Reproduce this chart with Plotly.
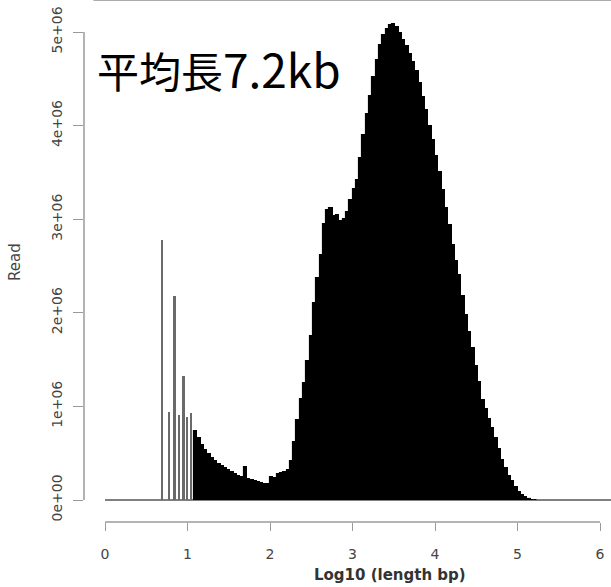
import numpy as np
import plotly.graph_objects as go

# ---- data ----
# discrete short-read spikes: log10(length) for lengths 5..11 bp, counts in millions
spike_log_len = [0.699, 0.778, 0.845, 0.903, 0.954, 1.000, 1.041]
spike_reads_m = [2.78, 0.94, 2.18, 0.91, 1.32, 0.89, 0.93]

# continuous histogram: bin centres start at 1.10, bin width 0.04 (log10 units)
hist_start = 1.10
hist_width = 0.04
hist_reads_m = [
    0.74, 0.66, 0.59, 0.53, 0.49, 0.45, 0.42, 0.39, 0.36, 0.34,
    0.32, 0.30, 0.28, 0.26, 0.245, 0.35, 0.22, 0.21, 0.20, 0.19,
    0.18, 0.175, 0.17, 0.25, 0.24, 0.28, 0.29, 0.30, 0.32, 0.42,
    0.62, 0.85, 1.08, 1.25, 1.48, 1.75, 2.10, 2.37, 2.62, 2.95,
    3.10, 3.12, 3.03, 3.04, 2.98, 3.00, 3.08, 3.20, 3.32, 3.42,
    3.65, 3.90, 4.12, 4.32, 4.52, 4.70, 4.86, 4.97, 5.03, 5.07,
    5.09, 5.05, 4.99, 4.92, 4.85, 4.76, 4.68, 4.58, 4.46, 4.31,
    4.17, 4.00, 3.85, 3.68, 3.50, 3.31, 3.12, 2.94, 2.72, 2.55,
    2.40, 2.18, 1.98, 1.80, 1.62, 1.43, 1.26, 1.07, 0.97, 0.87,
    0.77, 0.66, 0.55, 0.43, 0.34, 0.26, 0.20, 0.14, 0.09, 0.05,
    0.03, 0.012, 0.005, 0.002,
]

x_ticks = [0, 1, 2, 3, 4, 5, 6]
y_ticks = [0, 1e6, 2e6, 3e6, 4e6, 5e6]
y_tick_text = ["0e+00", "1e+06", "2e+06", "3e+06", "4e+06", "5e+06"]

title_cjk = "平均長"
title_latin = "7.2kb"
x_label = "Log10 (length bp)"
y_label = "Read"

# ---- figure ----
hist_centres = hist_start + hist_width * np.arange(len(hist_reads_m))

X_RANGE = [-0.2545, 6.133]
Y_RANGE = [-0.235e6, 5.342e6]


def xfrac(v):
    return (v - X_RANGE[0]) / (X_RANGE[1] - X_RANGE[0])


def yfrac(v):
    return (v - Y_RANGE[0]) / (Y_RANGE[1] - Y_RANGE[0])


fig = go.Figure()
fig.add_trace(go.Bar(
    x=hist_centres, y=np.array(hist_reads_m) * 1e6, width=hist_width,
    marker=dict(color="black", line=dict(width=1.1, color="black")), showlegend=False,
))
fig.add_trace(go.Bar(
    x=spike_log_len, y=np.array(spike_reads_m) * 1e6, width=0.02,
    marker=dict(color="#6a6a6a", line=dict(width=0)), showlegend=False,
))

axis_col = "#9a9a9a"
tick_font = dict(family="DejaVu Sans", size=14, color="#444444")

shapes = [
    # zero baseline of the histogram
    dict(type="line", xref="x", yref="y", x0=0, x1=6.2, y0=0, y1=0,
         line=dict(color="#808080", width=2), layer="below"),
    # x axis line (first to last tick)
    dict(type="line", xref="paper", yref="paper", x0=xfrac(0), x1=xfrac(6),
         y0=0, y1=0, line=dict(color=axis_col, width=1.5)),
    # y axis line (first to last tick)
    dict(type="line", xref="paper", yref="paper", x0=0, x1=0,
         y0=yfrac(0), y1=yfrac(5e6), line=dict(color=axis_col, width=1.5)),
    # thin border at the top
    dict(type="line", xref="paper", yref="paper", x0=xfrac(-0.14), x1=1,
         y0=1, y1=1, line=dict(color="#aaaaaa", width=2)),
]

fig.update_layout(
    width=611, height=587,
    margin=dict(l=84, r=0, t=0, b=65, pad=0),
    paper_bgcolor="white", plot_bgcolor="white",
    barmode="overlay", bargap=0,
    shapes=shapes,
    xaxis=dict(range=X_RANGE, showgrid=False, zeroline=False, showline=False,
               tickvals=x_ticks, ticks="outside", ticklen=8, tickwidth=1.2,
               tickcolor=axis_col, tickfont=tick_font, ticklabelstandoff=11,
               fixedrange=True),
    yaxis=dict(range=Y_RANGE, showgrid=False, zeroline=False, showline=False,
               tickvals=y_ticks, ticktext=y_tick_text, tickangle=-90,
               ticks="outside", ticklen=10, tickwidth=1.2, tickcolor=axis_col,
               tickfont=tick_font, ticklabelstandoff=5, fixedrange=True),
    annotations=[
        dict(text=title_cjk + "<span style='font-size:46px'>" + title_latin + "</span>",
             xref="paper", yref="paper",
             x=(95 - 84) / 527, y=1 - 68 / 522, xanchor="left", yanchor="middle",
             showarrow=False, font=dict(family="Noto Sans CJK JP", size=42, color="black")),
        dict(text="<b>" + x_label + "</b>", xref="paper", yref="paper",
             x=(390 - 84) / 527, y=-(575 - 522) / 522, xanchor="center", yanchor="middle",
             showarrow=False, font=dict(family="DejaVu Sans", size=15, color="#333333")),
        dict(text=y_label, xref="paper", yref="paper",
             x=(15 - 84) / 527, y=(522 - 262) / 522, xanchor="center", yanchor="middle",
             textangle=-90, showarrow=False,
             font=dict(family="DejaVu Sans", size=15, color="#444444")),
    ],
)

fig.write_html("out.html", config={"displayModeBar": False},
               post_script="document.body.style.margin='0';")
